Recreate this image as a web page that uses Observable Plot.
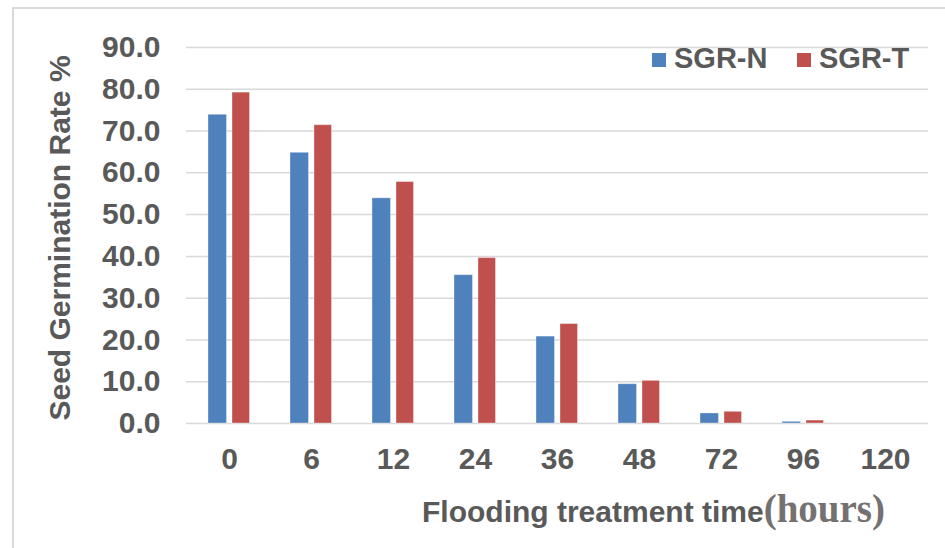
<!DOCTYPE html>
<html>
<head>
<meta charset="utf-8">
<script src="https://cdn.jsdelivr.net/npm/d3@7"></script>
<script src="https://cdn.jsdelivr.net/npm/@observablehq/plot@0.6"></script>
<style>
  html, body { margin: 0; padding: 0; background: #fff; }
  #wrap { position: relative; width: 945px; height: 548px; overflow: hidden; }
  #frame { position: absolute; left: 12px; top: 7px; width: 960px; height: 600px;
           border-left: 2px solid #d9d9d9; border-top: 2px solid #d9d9d9; }
  #chart { position: absolute; left: 0; top: 0; }
</style>
</head>
<body>
<div id="wrap"><div id="frame"></div><div id="chart"></div></div>
<script>
const categories = ["0", "6", "12", "24", "36", "48", "72", "96", "120"];
const seriesNames = ["SGR-N", "SGR-T"];
const sgrN = [73.9, 64.8, 53.9, 35.5, 20.8, 9.4, 2.4, 0.4, 0];
const sgrT = [79.2, 71.4, 57.8, 39.6, 23.8, 10.2, 2.8, 0.7, 0];
const yTicks = [0, 10, 20, 30, 40, 50, 60, 70, 80, 90];
const colors = ["#4F81BD", "#C0504D"];
const yTitle = "Seed Germination Rate %";
const xTitleMain = "Flooding treatment time";
const xTitleUnit = "(hours)";

const dataN = categories.map((c, i) => ({time: c, value: sgrN[i]}));
const dataT = categories.map((c, i) => ({time: c, value: sgrT[i]}));

const font = "'Liberation Sans', Arial, sans-serif";

const svg = Plot.plot({
  width: 945,
  height: 548,
  marginLeft: 186,
  marginRight: 17,
  marginTop: 47,
  marginBottom: 125,
  style: {fontFamily: font, color: "#595959", background: "transparent", overflow: "visible"},
  x: {domain: categories, padding: 0},
  y: {domain: [0, 90]},
  marks: [
    Plot.gridY(yTicks, {stroke: "#d9d9d9", strokeOpacity: 1, strokeWidth: 1.5}),
    Plot.barY(dataN, {x: "time", y: "value", fill: colors[0], insetLeft: 20, insetRight: 43.5,
      stroke: "#ffffff", strokeOpacity: 0.35, strokeWidth: 1}),
    Plot.barY(dataT, {x: "time", y: "value", fill: colors[1], insetLeft: 44, insetRight: 20.5,
      stroke: "#ffffff", strokeOpacity: 0.35, strokeWidth: 1}),
    Plot.axisY(yTicks, {tickSize: 0, tickPadding: 26, tickFormat: d3.format(".1f"),
      label: null, fontSize: 30, fontWeight: "bold", fill: "#595959"}),
    Plot.axisX({tickSize: 0, tickPadding: 24, label: null, fontSize: 30, fontWeight: "bold", fill: "#595959"})
  ]
});

document.getElementById("chart").appendChild(svg);

const s = d3.select(svg);
// Y title
s.append("text")
  .attr("transform", "translate(70,238) rotate(-90)")
  .attr("text-anchor", "middle")
  .attr("font-family", font)
  .attr("font-weight", "bold")
  .attr("font-size", 30)
  .attr("fill", "#595959")
  .text(yTitle);

// X title
const xt = s.append("text")
  .attr("x", 422)
  .attr("y", 522)
  .attr("text-anchor", "start")
  .attr("font-family", font)
  .attr("font-weight", "bold")
  .attr("font-size", 30)
  .attr("fill", "#595959");
xt.append("tspan").text(xTitleMain);
xt.append("tspan")
  .attr("font-family", "'Liberation Serif', 'Times New Roman', serif")
  .attr("font-size", 39)
  .attr("fill", "#767171")
  .text(xTitleUnit);

// Legend
const legendX = [652, 797];
seriesNames.forEach((name, i) => {
  const g = s.append("g").attr("transform", `translate(${legendX[i]},53)`);
  g.append("rect").attr("width", 14).attr("height", 14).attr("fill", colors[i]);
  g.append("text")
    .attr("x", 22)
    .attr("y", 15)
    .attr("text-anchor", "start")
    .attr("font-family", font)
    .attr("font-weight", "bold")
    .attr("font-size", 29)
    .attr("fill", "#595959")
    .text(name);
});
</script>
</body>
</html>
